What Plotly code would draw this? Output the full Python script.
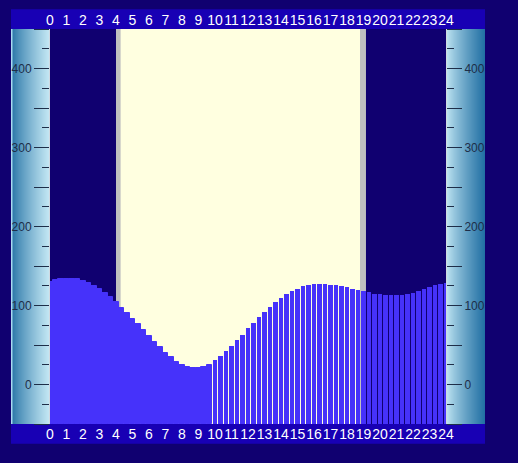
import plotly.graph_objects as go

# ---------------- data ----------------
hours = list(range(25))
hour_labels = [str(h) for h in hours]
step_hours = 1 / 3  # one bar every 20 minutes
tide_cm = [130, 132, 133.5, 134, 134, 133, 131, 128, 124.5, 120.5,
           116, 110.5, 104, 97, 90, 83, 76, 68.5, 61, 54,
           47, 40.5, 34.5, 29, 25, 22, 20.5, 20.5, 22, 25,
           30.5, 36, 42.5, 49, 56, 62.5, 71, 77.5, 85, 91.5,
           98, 104.5, 110, 114.5, 118.5, 121, 124.5, 126, 127.5, 127.5,
           127.5, 126.5, 126, 125, 123.5, 121.5, 120, 118.5, 117, 115,
           114, 113.7, 113.7, 113.7, 113.7, 115, 116, 118.5, 121.5, 123,
           125.5, 127.5, 128.5]
now_hour = 10.0
dawn, sunrise, sunset, dusk = 4.0, 4.28, 18.79, 19.15
y_min, y_max = -50, 450
y_tickvals = list(range(-50, 451, 50))
y_ticktext = [str(v) if v % 100 == 0 else "" for v in y_tickvals]

# ---------------- styles ----------------
BG = "#100070"
BAND = "#1800b4"
BAR = "#4632fa"
DAY = "#ffffe0"
TWI = "#c0c0c0"
TICK = "#1e2e48"
SCALE_DARK = (34, 112, 164)
SCALE_LIGHT = (196, 232, 244)

times = [i * step_hours for i in range(len(tide_cm))]
past_t = [t for t in times if t < now_hour - 1e-9]
past_v = [v for t, v in zip(times, tide_cm) if t < now_hour - 1e-9]
fut_t = [t for t in times if t >= now_hour - 1e-9]
fut_v = [v for t, v in zip(times, tide_cm) if t >= now_hour - 1e-9]

fig = go.Figure()
fig.add_trace(go.Bar(x=past_t, y=[v - y_min for v in past_v], base=y_min,
                     width=step_hours, marker=dict(color=BAR, line=dict(width=1, color=BAR)),
                     showlegend=False, hoverinfo="skip"))
fig.add_trace(go.Bar(x=fut_t, y=[v - y_min for v in fut_v], base=y_min,
                     width=step_hours * 0.8, marker=dict(color=BAR, line=dict(width=0)),
                     showlegend=False, hoverinfo="skip"))
fig.add_trace(go.Scatter(x=[None], y=[None], xaxis="x2", yaxis="y2",
                         showlegend=False, hoverinfo="skip"))

W, H = 518, 463
L, R, T, B = 50, 72, 24, 39
pw, ph = W - L - R, H - T - B

def px_x(p):
    return (p - L) / pw

def px_y(p):
    return 1 - (p - T) / ph

shapes = []
# top & bottom bands
shapes.append(dict(type="rect", xref="paper", yref="paper", x0=px_x(11), x1=px_x(485),
                   y0=px_y(24), y1=px_y(4), fillcolor=BAND, line=dict(width=0), layer="below"))
shapes.append(dict(type="rect", xref="paper", yref="paper", x0=px_x(11), x1=px_x(485),
                   y0=px_y(444), y1=px_y(424), fillcolor=BAND, line=dict(width=0), layer="below"))

# gradient scales
def mix(a, b, t):
    return "rgb(%d,%d,%d)" % tuple(round(a[k] + (b[k] - a[k]) * t) for k in range(3))

n = 39
for k in range(n):
    t = (k / (n - 1)) ** 0.8
    shapes.append(dict(type="rect", xref="paper", yref="paper",
                       x0=px_x(11 + k), x1=px_x(12 + k), y0=0, y1=1,
                       fillcolor=mix(SCALE_DARK, SCALE_LIGHT, t), line=dict(width=0), layer="below"))
    shapes.append(dict(type="rect", xref="paper", yref="paper",
                       x0=px_x(446 + k), x1=px_x(447 + k), y0=0, y1=1,
                       fillcolor=mix(SCALE_LIGHT, SCALE_DARK, t), line=dict(width=0), layer="below"))
shapes.append(dict(type="rect", xref="paper", yref="paper", x0=px_x(11), x1=px_x(12.5),
                   y0=0, y1=1, fillcolor="#a8d8f0", line=dict(width=0), layer="below"))
shapes.append(dict(type="rect", xref="paper", yref="paper", x0=px_x(49), x1=px_x(50),
                   y0=0, y1=1, fillcolor="#d0d8e0", line=dict(width=0), layer="below"))
shapes.append(dict(type="rect", xref="paper", yref="paper", x0=px_x(446), x1=px_x(447),
                   y0=0, y1=1, fillcolor="#d0d8e0", line=dict(width=0), layer="below"))

# day / twilight
shapes.append(dict(type="rect", xref="x", yref="paper", x0=dawn, x1=dusk, y0=0, y1=1,
                   fillcolor=TWI, line=dict(width=0), layer="below"))
shapes.append(dict(type="rect", xref="x", yref="paper", x0=sunrise, x1=sunset, y0=0, y1=1,
                   fillcolor=DAY, line=dict(width=0), layer="below"))

xfont = dict(family="Liberation Sans, Arial, sans-serif", size=14, color="white")
yfont = dict(family="Liberation Sans, Arial, sans-serif", size=12, color=TICK)

common_x = dict(range=[0, 24], tickmode="array", tickvals=hours, ticktext=hour_labels,
                tickangle=0, ticks="", showgrid=False, zeroline=False, showline=False,
                tickfont=xfont, fixedrange=True)
common_y = dict(range=[y_min, y_max], tickmode="array", tickvals=y_tickvals, ticktext=y_ticktext,
                ticks="outside", ticklen=15, tickwidth=1, tickcolor=TICK,
                minor=dict(ticks="outside", dtick=25, tick0=0, ticklen=7, tickwidth=1,
                           tickcolor=TICK, showgrid=False),
                showgrid=False, zeroline=False, showline=False, tickfont=yfont, fixedrange=True)

fig.update_layout(
    width=W, height=H,
    margin=dict(l=L, r=R, t=T, b=B, pad=0),
    paper_bgcolor=BG, plot_bgcolor="rgba(0,0,0,0)",
    barmode="overlay", bargap=0,
    showlegend=False,
    shapes=shapes,
    xaxis=dict(side="bottom", **common_x),
    xaxis2=dict(side="top", overlaying="x", matches="x", **common_x),
    yaxis=dict(side="left", **common_y),
    yaxis2=dict(side="right", overlaying="y", matches="y", **common_y),
)

fig.write_html(
    "out.html",
    config={"displayModeBar": False},
    post_script="document.body.style.margin='0';document.body.style.background='%s';" % BG,
)
